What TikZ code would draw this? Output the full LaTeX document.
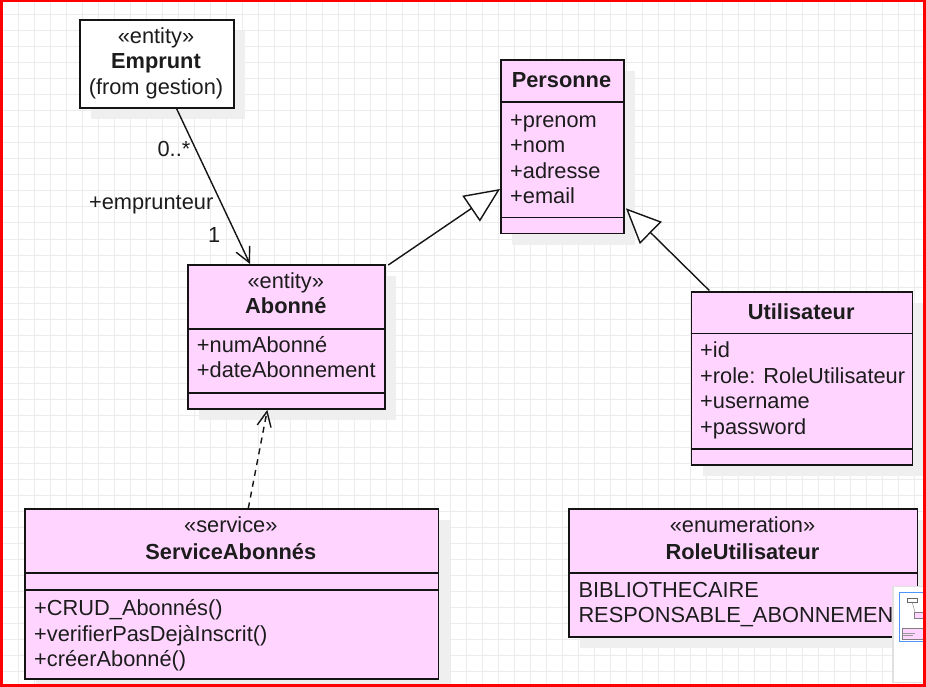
\documentclass[tikz,border=0pt]{standalone}
\usepackage{fontspec}
\setmainfont{Liberation Sans}
\usetikzlibrary{arrows.meta,calc}
\definecolor{pinkfill}{RGB}{255,213,255}
\definecolor{gridc}{RGB}{236,236,236}
\definecolor{shadowc}{RGB}{239,239,239}
\definecolor{txtc}{RGB}{28,28,28}
\definecolor{linec}{RGB}{20,20,20}
\definecolor{mapblue}{RGB}{80,150,250}
\begin{document}
\begin{tikzpicture}[x=1pt,y=-1pt,
  classbox/.style={draw=linec, line width=1.6pt, fill=pinkfill, inner sep=0pt, anchor=north west},
  whitebox/.style={classbox, fill=white},
  shadowbox/.style={fill=shadowc},
  divider/.style={draw=linec, line width=1.6pt},
  lbl/.style={text=txtc, inner sep=0pt, font=\fontsize{21.8}{25.5}\selectfont},
  title/.style={lbl, anchor=base, font=\fontsize{21.8}{25.5}\selectfont\bfseries},
  stereo/.style={lbl, anchor=base},
  attr/.style={lbl, anchor=base west},
  conn/.style={draw=linec, line width=1.4pt},
  assoc/.style={conn, -{Straight Barb[length=15pt,width=15pt,line width=1.4pt]}},
  depend/.style={conn, dash pattern=on 6pt off 5pt, -{Straight Barb[length=15pt,width=14pt,line width=1.4pt,sep=0pt]}},
  general/.style={conn, -{Triangle[length=35pt,width=31pt,fill=white,line width=1.4pt]}},
  endlbl/.style={lbl, anchor=base east}
]
\useasboundingbox (0,0) rectangle (926,687);
\fill[white] (0,0) rectangle (926,687);
% grid
\foreach \k in {0,...,57} {\draw[gridc, line width=1pt] ({2.3+16*\k},0) -- ({2.3+16*\k},687);}
\foreach \k in {-1,...,42} {\draw[gridc, line width=1pt] (0,{15+16*\k}) -- (926,{15+16*\k});}

% shadows
\fill[shadowbox] (91,31) rectangle ++(154.3,88.3);
\fill[shadowbox] (512,71.3) rectangle ++(123.3,173.4);
\fill[shadowbox] (199.3,276) rectangle ++(197,144.3);
\fill[shadowbox] (702.7,303) rectangle ++(221,173);
\fill[shadowbox] (580.3,520.3) rectangle ++(348.4,127.7);
\fill[shadowbox] (36,520.3) rectangle ++(413.7,170);

% Emprunt
\node[whitebox, minimum width=154.3pt, minimum height=88.3pt] (emprunt) at (79,19) {};
\node[stereo] (empruntS) at (156,43.5) {«entity»};
\node[title] (empruntT) at (156,68.7) {Emprunt};
\node[stereo] (empruntF) at (156,94.5) {(from gestion)};

% Personne
\node[classbox, minimum width=123.3pt, minimum height=173.4pt] (personne) at (500,59.3) {};
\draw[divider] ($(personne.north west)+(0,42.7)$) -- ($(personne.north east)+(0,42.7)$);
\draw[divider] ($(personne.north west)+(0,158.4)$) -- ($(personne.north east)+(0,158.4)$);
\node[title] (personneT) at (561.5,87.7) {Personne};
\node[attr] (p1) at (510,127.5) {+prenom};
\node[attr] (p2) at (510,153) {+nom};
\node[attr] (p3) at (510,178.3) {+adresse};
\node[attr] (p4) at (510,203.6) {+email};

% Abonne
\node[classbox, minimum width=197pt, minimum height=144.3pt] (abonne) at (187.3,264) {};
\draw[divider] ($(abonne.north west)+(0,65)$) -- ($(abonne.north east)+(0,65)$);
\draw[divider] ($(abonne.north west)+(0,128.7)$) -- ($(abonne.north east)+(0,128.7)$);
\node[stereo] (abonneS) at (285.8,288.3) {«entity»};
\node[title] (abonneT) at (285.8,313.3) {Abonné};
\node[attr] (a1) at (196.7,352) {+numAbonné};
\node[attr] (a2) at (196.7,377.7) {+dateAbonnement};

% Utilisateur
\node[classbox, minimum width=221pt, minimum height=173pt] (utilisateur) at (690.7,291) {};
\draw[divider] ($(utilisateur.north west)+(0,42.3)$) -- ($(utilisateur.north east)+(0,42.3)$);
\draw[divider] ($(utilisateur.north west)+(0,158)$) -- ($(utilisateur.north east)+(0,158)$);
\node[title] (utilisateurT) at (801.2,319) {Utilisateur};
\node[attr] (u1) at (700,357.5) {+id};
\node[attr] (u2) at (700,383) {+role: RoleUtilisateur};
\node[attr] (u3) at (700,408.5) {+username};
\node[attr] (u4) at (700,434) {+password};

% RoleUtilisateur
\node[classbox, minimum width=348.4pt, minimum height=127.7pt] (role) at (568.3,508.3) {};
\draw[divider] ($(role.north west)+(0,64.4)$) -- ($(role.north east)+(0,64.4)$);
\node[stereo] (roleS) at (742.5,532.7) {«enumeration»};
\node[title] (roleT) at (742.5,559) {RoleUtilisateur};
\node[attr] (r1) at (578.3,597.3) {BIBLIOTHECAIRE};
\node[attr] (r2) at (578.3,622.5) {RESPONSABLE\_ABONNEMEN};

% ServiceAbonnes
\node[classbox, minimum width=413.7pt, minimum height=170pt] (service) at (24,508.3) {};
\draw[divider] ($(service.north west)+(0,64.4)$) -- ($(service.north east)+(0,64.4)$);
\draw[divider] ($(service.north west)+(0,81.7)$) -- ($(service.north east)+(0,81.7)$);
\node[stereo] (serviceS) at (230.8,532.7) {«service»};
\node[title] (serviceT) at (230.8,559) {ServiceAbonnés};
\node[attr] (s1) at (34,615) {+CRUD\_Abonnés()};
\node[attr] (s2) at (34,641.5) {+verifierPasDejàInscrit()};
\node[attr] (s3) at (34,666.7) {+créerAbonné()};

% connectors
\draw[assoc] ($(emprunt.south west)+(97.7,0)$) -- ($(abonne.north west)+(62.7,0)$);
\node[endlbl] (mult1) at (190.5,156.5) {0..*};
\node[endlbl] (role1) at (213.5,210) {+emprunteur};
\node[endlbl] (mult2) at (220.5,242.3) {1};
\draw[general] ($(abonne.north east)+(2.4,1)$) -- ($(personne.north west)+(0,129.7)$);
\draw[general] ($(utilisateur.north west)+(18.6,-0.5)$) -- ($(personne.north east)+(1,149)$);
\draw[depend] ($(service.north west)+(224.3,0)$) -- ($(abonne.south west)+(80,0)$);

% minimap
\fill[black!12] (892.3,585.7) rectangle (926,682.7);
\fill[white] (893.8,587.2) rectangle (926,681.7);
\draw[mapblue, line width=1pt] (899,592.3) rectangle (930,641.7);
\fill[white] (906.7,597.7) rectangle (916.7,601.7);
\draw[black!60, line width=0.4pt] (906.7,597.7) rectangle (916.7,601.7);
\draw[black!50, line width=0.4pt] (912,601.7) -- (915,612.3);
\fill[pinkfill] (914.3,612.3) rectangle (926,617.7);
\draw[black!50, line width=0.4pt] (914.3,612.3) rectangle (928,617.7);
\fill[pinkfill] (901.7,628.3) rectangle (926,639);
\draw[black!50, line width=0.4pt] (901.7,628.3) rectangle (928,639);
\draw[black!40, line width=0.4pt] (903,633) -- (915,633) (903,635.5) -- (913,635.5);

% red frame
\draw[red, line width=2.6pt] (1.2,1.2) rectangle (924.7,685.7);
\end{tikzpicture}
\end{document}
